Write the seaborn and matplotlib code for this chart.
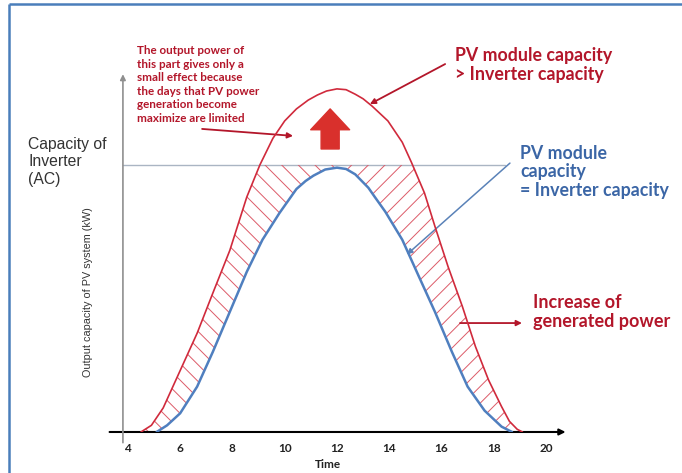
import numpy as np
import pandas as pd
import matplotlib
matplotlib.use("Agg")
import matplotlib.pyplot as plt
from matplotlib.lines import Line2D
from matplotlib.patches import Rectangle
import seaborn as sns

sns.set_theme(style="white")
plt.rcParams["font.family"] = ["Lato", "DejaVu Sans"]
plt.rcParams["hatch.linewidth"] = 0.7

# --- data (hour of day, output power; inverter capacity = 100) ---
blue_hours = [5.1, 5.5, 6.0, 6.65, 7.25, 7.9, 8.55, 9.15, 9.8, 10.45, 10.8, 11.1, 11.55,
              12.0, 12.35, 12.7, 13.2, 13.45, 13.85, 14.5, 15.1, 15.75, 16.4, 17.0,
              17.65, 18.3, 18.7]
blue_power = [0, 2.5, 7, 17, 30, 45, 60, 72, 82, 91, 94, 96, 98.3,
              99, 98.5, 96.5, 91.5, 88, 82.5, 72, 59, 45, 30, 17,
              8, 2, 0]

red_hours = [4.5, 4.9, 5.35, 6.0, 6.65, 7.25, 7.9, 8.55, 9.05, 9.55, 10.0, 10.45,
             10.9, 11.25, 11.6, 12.0, 12.35, 12.7, 13.0, 13.35, 13.95, 14.5, 14.85,
             15.35, 15.75, 16.25, 16.8, 17.3, 17.8, 18.3, 18.6, 18.9, 19.1]
red_power = [0, 2.5, 9, 23, 37, 52, 68, 88, 100, 110, 116.5, 121,
             124.3, 126.2, 127.7, 128.5, 128.2, 126.5, 124.8, 122, 116.5, 108.5, 101,
             89.5, 77, 62, 47, 32, 19.5, 9.5, 4, 1, 0]

inverter_cap = 100
noon = 12
tick_hours = [4, 6, 8, 10, 12, 14, 16, 18, 20]

RED = "#d02a3c"
DARK_RED = "#b3162a"
BLUE = "#4f7fbf"
BLUE_TXT = "#3b66a6"

df = pd.concat([
    pd.DataFrame({"hour": red_hours, "power": red_power, "series": "PV > inverter"}),
    pd.DataFrame({"hour": blue_hours, "power": blue_power, "series": "PV = inverter"}),
])

fig = plt.figure(figsize=(6.82, 4.73), dpi=100)
ax = fig.add_axes([0.1607, 0.0867, 0.6782, 0.7903])

sns.lineplot(data=df, x="hour", y="power", hue="series", estimator=None,
             palette={"PV > inverter": RED, "PV = inverter": BLUE},
             linewidth=1.2, legend=False, ax=ax, zorder=4)
ax.lines[1].set_linewidth(1.8)
for ln in ax.lines:
    ln.set_solid_joinstyle("round")

ax.set_xlim(3.3, 21.0)
ax.set_ylim(0, 140)

# hatched gain between the two curves, below inverter capacity
rh, rp = np.array(red_hours), np.array(red_power)
bh, bp = np.array(blue_hours), np.array(blue_power)
clip = Rectangle((3, 0), 18, inverter_cap, transform=ax.transData)
for left_side, hatch in [(True, "\\\\"), (False, "//")]:
    rs = (rh <= noon) if left_side else (rh >= noon)
    bs = (bh <= noon) if left_side else (bh >= noon)
    xs = np.concatenate([rh[rs], bh[bs][::-1]])
    ys = np.concatenate([rp[rs], bp[bs][::-1]])
    poly = ax.fill(xs, ys, facecolor="none", edgecolor="#dc5a68",
                   linewidth=0, hatch=hatch, zorder=2)[0]
    poly.set_clip_path(clip)

# inverter capacity line
ax.plot([3.81, 18.45], [inverter_cap, inverter_cap], color="#aab5c3", lw=1.0, zorder=1)

# hand-drawn axes
ax.annotate("", xy=(20.75, 0), xytext=(3.3, 0), annotation_clip=False,
            arrowprops=dict(arrowstyle="-|>", color="black", lw=1.5,
                            mutation_scale=9, shrinkA=0, shrinkB=0))
ax.annotate("", xy=(3.81, 134), xytext=(3.81, -4), annotation_clip=False,
            arrowprops=dict(arrowstyle="-|>", color="#8f8f8f", lw=1.2,
                            mutation_scale=8, shrinkA=0, shrinkB=0))
sns.despine(ax=ax, left=True, bottom=True)

ax.set_xticks(tick_hours)
ax.set_xticklabels([str(h) for h in tick_hours], fontsize=8.5, fontweight="bold",
                   color="#222222")
ax.tick_params(axis="x", length=0, pad=8)
ax.set_yticks([])
ax.set_xlabel("Time", fontsize=8.5, fontweight="bold", color="#222222")
ax.xaxis.set_label_coords(0.472, -0.072)
ax.set_ylabel("")

# big red arrow above the inverter line
ax.annotate("", xy=(11.74, 121), xytext=(11.74, 106),
            arrowprops=dict(arrowstyle="simple,head_length=0.75,head_width=1.4,tail_width=0.65",
                            color="#d9302c", mutation_scale=20, shrinkA=0, shrinkB=0))

# callout arrows
arr_red = dict(arrowstyle="-|>", color=DARK_RED, lw=1.3, mutation_scale=8,
               shrinkA=0, shrinkB=0)
ax.annotate("", xy=(10.32, 110.9), xytext=(6.84, 113.5), arrowprops=arr_red,
            annotation_clip=False)
ax.annotate("", xy=(13.26, 122.8), xytext=(16.14, 137.8), arrowprops=arr_red,
            annotation_clip=False)
ax.annotate("", xy=(19.08, 40.8), xytext=(16.71, 40.8), arrowprops=arr_red,
            annotation_clip=False)
ax.annotate("", xy=(14.68, 66.5), xytext=(18.62, 100.7), annotation_clip=False,
            arrowprops=dict(arrowstyle="-|>", color="#5a82b8", lw=1.1,
                            mutation_scale=8, shrinkA=0, shrinkB=0))

# texts
fig.text(137 / 682, 1 - 45 / 473,
         "The output power of\nthis part gives only a\nsmall effect because\n"
         "the days that PV power\ngeneration become\nmaximize are limited",
         fontsize=8.4, fontweight="bold", color=DARK_RED, va="top", ha="left",
         linespacing=1.28)
fig.text(455 / 682, 1 - 65 / 473, "PV module capacity\n> Inverter capacity",
         fontsize=12.8, fontweight="bold", color=DARK_RED, va="center", ha="left",
         linespacing=1.1)
fig.text(520 / 682, 1 - 172 / 473, "PV module\ncapacity\n= Inverter capacity",
         fontsize=12.8, fontweight="bold", color=BLUE_TXT, va="center", ha="left",
         linespacing=1.1)
fig.text(533 / 682, 1 - 312 / 473, "Increase of\ngenerated power",
         fontsize=13, fontweight="bold", color=DARK_RED, va="center", ha="left",
         linespacing=1.1)
fig.text(28 / 682, 1 - 162 / 473, "Capacity of\nInverter\n(AC)",
         fontsize=11.3, color="#333333", va="center", ha="left", linespacing=1.2,
         family=["Liberation Sans", "DejaVu Sans"])
fig.text(88 / 682, 1 - 292 / 473, "Output capacity of PV system (kW)",
         fontsize=7.8, color="#333333", rotation=90, va="center", ha="center",
         family=["Liberation Sans", "DejaVu Sans"])

# blue frame (cut off at right and bottom)
frame = dict(color="#4a7ebb", lw=1.8, transform=fig.transFigure, solid_capstyle="butt")
fig.add_artist(Line2D([8.5 / 682, 1.0], [1 - 4.5 / 473, 1 - 4.5 / 473], **frame))
fig.add_artist(Line2D([8.5 / 682, 8.5 / 682], [0.0, 1 - 4.5 / 473], **frame))

fig.savefig("out.png", dpi=100)
